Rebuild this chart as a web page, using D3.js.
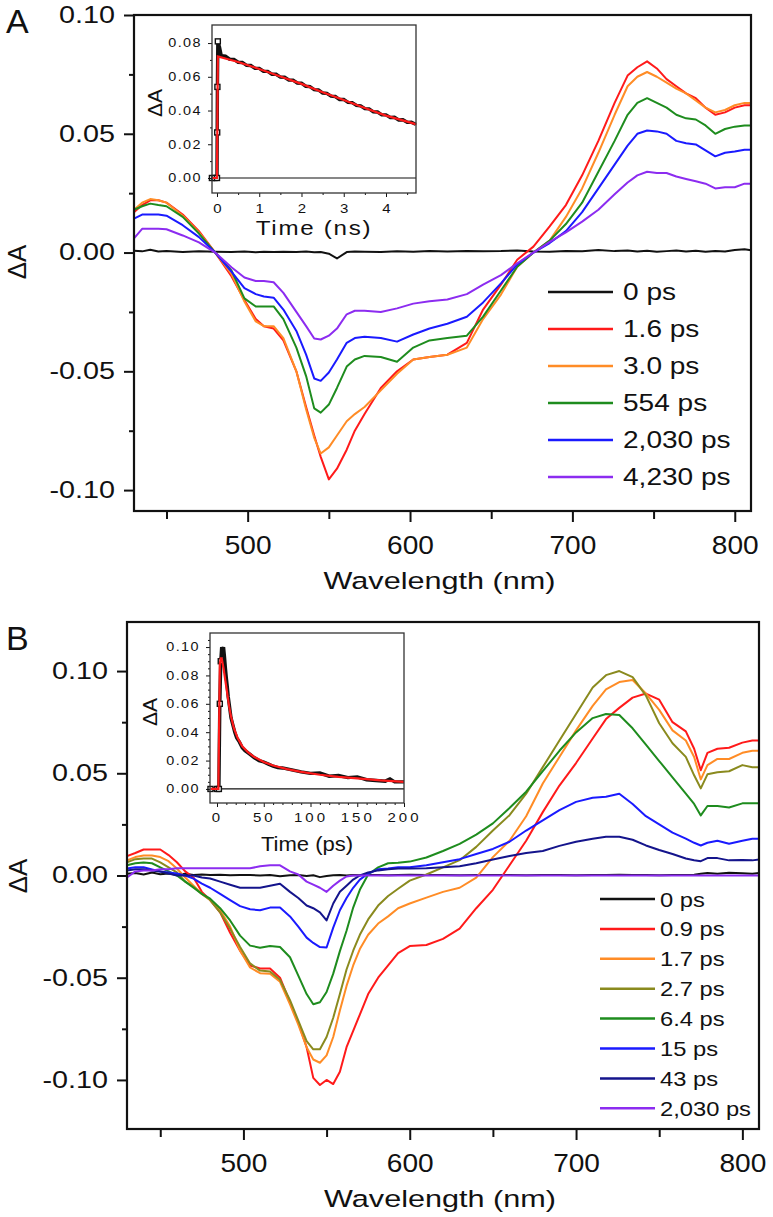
<!DOCTYPE html>
<html>
<head>
<meta charset="utf-8">
<script src="https://cdn.jsdelivr.net/npm/d3@7"></script>
<style>
  body { margin: 0; background: #fff; }
  svg { display: block; }
</style>
</head>
<body>
<svg id="chart" width="773" height="1217"></svg>
<script>
// ---------- Panel A : transient spectra ----------
const wavelengthsA = [430,435,440,445,450,460,470,480,490,498,505,510,516,522,530,536,541,545,550,555,
  561,566,572,582,592,602,612,623,635,645,656,666,676,686,696,706,716,726,734,740,
  746,752,758,764,770,776,782,788,794,800,806,810];

const a0ps = [0.0008,0.0005,0.0012,0.0004,0.0006,0.0002,0.0005,0.0003,0.0002,0.0004,0.0001,0.0003,0.0002,0.0003,0.0002,0.0004,0.0001,0.0002,-0.0005,-0.0025,
  0.0002,0.0004,0.0003,0.0002,0.0005,0.0003,0.0006,0.0004,0.0007,0.0005,0.0006,0.0009,0.0004,0.0003,0.0007,0.0005,0.0011,0.0006,0.0009,0.0004,
  0.0008,0.0003,0.0006,0.0009,0.0004,0.0008,0.0003,0.0007,0.0004,0.0011,0.0014,0.0010];
const a1_6ps = [0.017,0.020,0.022,0.022,0.021,0.016,0.009,0.000,-0.010,-0.020,-0.028,-0.031,-0.032,-0.037,-0.050,-0.065,-0.077,-0.086,-0.0955,-0.091,
  -0.083,-0.075,-0.068,-0.057,-0.050,-0.045,-0.044,-0.043,-0.038,-0.024,-0.0135,-0.003,0.0025,0.011,0.020,0.0325,0.047,0.063,0.0745,0.078,
  0.0805,0.0775,0.073,0.070,0.067,0.065,0.061,0.058,0.059,0.061,0.062,0.062];
const a3_0ps = [0.018,0.021,0.0225,0.022,0.021,0.0155,0.0085,0.000,-0.009,-0.0206,-0.029,-0.031,-0.031,-0.036,-0.050,-0.066,-0.078,-0.0846,-0.082,-0.077,
  -0.071,-0.068,-0.065,-0.058,-0.051,-0.045,-0.044,-0.043,-0.040,-0.028,-0.0177,-0.006,0.000,0.005,0.015,0.027,0.042,0.058,0.070,0.074,
  0.076,0.074,0.0715,0.069,0.067,0.064,0.061,0.059,0.060,0.062,0.063,0.063];
const a554ps = [0.018,0.0195,0.0206,0.020,0.0195,0.015,0.008,0.000,-0.0075,-0.0193,-0.0227,-0.0227,-0.0227,-0.028,-0.040,-0.052,-0.0656,-0.0674,-0.064,-0.057,
  -0.048,-0.045,-0.0435,-0.044,-0.046,-0.040,-0.037,-0.036,-0.035,-0.027,-0.016,-0.006,0.000,0.005,0.012,0.021,0.034,0.047,0.058,0.063,
  0.065,0.063,0.061,0.058,0.0565,0.056,0.0535,0.050,0.052,0.053,0.0535,0.0535];
const a2030ps = [0.0143,0.016,0.016,0.016,0.0155,0.0115,0.0065,0.000,-0.008,-0.015,-0.0175,-0.0185,-0.019,-0.024,-0.033,-0.043,-0.053,-0.054,-0.0505,-0.045,
  -0.038,-0.036,-0.0354,-0.036,-0.0375,-0.0345,-0.032,-0.030,-0.027,-0.021,-0.013,-0.005,0.000,0.004,0.009,0.017,0.027,0.037,0.045,0.050,
  0.0514,0.051,0.050,0.047,0.046,0.0455,0.043,0.0405,0.042,0.0425,0.0433,0.0433];
const a4230ps = [0.006,0.010,0.010,0.010,0.0098,0.0072,0.0043,0.000,-0.0062,-0.0105,-0.012,-0.012,-0.0125,-0.017,-0.025,-0.031,-0.0362,-0.0366,-0.035,-0.032,
  -0.026,-0.0245,-0.0245,-0.025,-0.0235,-0.0215,-0.0205,-0.0198,-0.0175,-0.0135,-0.0095,-0.0045,0.000,0.0045,0.0085,0.013,0.018,0.0245,0.0295,0.0325,
  0.034,0.0335,0.0335,0.032,0.031,0.030,0.029,0.027,0.0275,0.0275,0.029,0.029];
const legendA = ['0 ps', '1.6 ps', '3.0 ps', '554 ps', '2,030 ps', '4,230 ps'];

// inset A : kinetics (ns)
const insetATime = [-0.12,-0.06,0,0.005,0.01,0.02,0.06,0.1,
  0.2,0.3,0.4,0.5,0.6,0.7,0.8,0.9,1.0,1.1,1.2,1.3,1.4,1.5,1.6,1.7,1.8,1.9,2.0,2.1,2.2,2.3,2.4,2.5,2.6,2.7,2.8,2.9,
  3.0,3.1,3.2,3.3,3.4,3.5,3.6,3.7,3.8,3.9,4.0,4.1,4.2,4.3,4.4,4.5,4.6,4.7];
const insetAData = [0,0,0,0.027,0.054,0.081,0.0775,0.0725,
  0.0722,0.0704,0.0703,0.0686,0.0685,0.0668,0.0667,0.0650,0.0650,0.0633,0.0632,0.0615,0.0615,0.0598,0.0597,0.0581,0.0580,0.0563,0.0562,0.0544,0.0542,0.0524,0.0522,0.0504,0.0502,0.0485,0.0483,0.0465,
  0.0466,0.0448,0.0447,0.0430,0.0428,0.0411,0.0410,0.0392,0.0391,0.0374,0.0374,0.0359,0.0360,0.0344,0.0345,0.0330,0.0331,0.0318];
const insetAFitTime = [-0.12,0,0.02,0.5,1.0,1.5,2.0,2.5,3.0,3.5,4.0,4.5,4.72];
const insetAFit = [0,0,0.0720,0.0688,0.0646,0.0602,0.0558,0.0508,0.0462,0.0415,0.0370,0.0334,0.0318];

// ---------- Panel B : transient spectra ----------
const wavelengthsB = [430,435,440,445,450,455,460,465,470,475,480,486,492,498,504,510,516,522,528,533,
  538,542,546,550,554,558,562,566,570,575,581,587,593,600,610,620,630,640,650,660,
  670,680,690,700,710,718,726,734,742,750,758,766,771,775,779,785,792,800,806,810];

const b0ps = [0.0008,0.0012,0.0005,0.0015,0.0006,0.0010,0.0004,0.0008,0.0003,0.0005,0.0002,0.0004,0.0001,0.0003,0.0002,0.0000,0.0002,-0.0004,0.0001,0.0002,
  -0.0002,0.0001,-0.0008,-0.0003,0.0001,0.0002,0.0000,0.0003,0.0001,0.0002,0.0003,0.0001,0.0002,0.0004,0.0002,0.0003,0.0001,0.0002,0.0003,0.0002,
  0.0001,0.0003,0.0002,0.0001,0.0003,0.0002,0.0004,0.0002,0.0003,0.0001,0.0002,0.0003,0.0004,0.0008,0.0012,0.0009,0.0013,0.0011,0.0009,0.0012];
const b0_9ps = [0.0095,0.011,0.0127,0.0127,0.0127,0.010,0.0065,0.002,-0.001,-0.008,-0.012,-0.018,-0.028,-0.0368,-0.044,-0.0455,-0.0455,-0.050,-0.062,-0.072,
  -0.084,-0.099,-0.1025,-0.100,-0.102,-0.096,-0.084,-0.076,-0.068,-0.058,-0.050,-0.044,-0.038,-0.0345,-0.034,-0.031,-0.026,-0.016,-0.007,0.005,
  0.017,0.031,0.044,0.055,0.067,0.0765,0.082,0.087,0.089,0.086,0.075,0.0705,0.062,0.0515,0.060,0.062,0.0625,0.065,0.066,0.066];
const b1_7ps = [0.0074,0.009,0.0098,0.0098,0.009,0.007,0.0034,-0.001,-0.005,-0.009,-0.012,-0.017,-0.025,-0.0368,-0.045,-0.0478,-0.048,-0.052,-0.063,-0.073,
  -0.084,-0.090,-0.0916,-0.088,-0.079,-0.066,-0.054,-0.044,-0.036,-0.029,-0.0235,-0.020,-0.016,-0.0137,-0.0108,-0.008,-0.006,-0.001,0.009,0.017,
  0.029,0.045,0.058,0.071,0.083,0.091,0.0946,0.0956,0.089,0.081,0.071,0.066,0.058,0.047,0.054,0.057,0.057,0.060,0.061,0.061];
const b2_7ps = [0.0064,0.008,0.0083,0.0083,0.0064,0.004,0.0015,-0.003,-0.0055,-0.009,-0.012,-0.018,-0.026,-0.035,-0.043,-0.0465,-0.047,-0.051,-0.061,-0.071,
  -0.081,-0.085,-0.085,-0.079,-0.0696,-0.058,-0.046,-0.0368,-0.029,-0.0215,-0.0147,-0.010,-0.0065,-0.0025,0.0005,0.004,0.0075,0.014,0.022,0.0295,
  0.040,0.053,0.066,0.079,0.092,0.098,0.100,0.097,0.088,0.0745,0.0647,0.058,0.049,0.0426,0.0495,0.0505,0.051,0.054,0.053,0.053];
const b6_4ps = [0.005,0.006,0.0064,0.006,0.004,0.002,0.0,-0.003,-0.006,-0.009,-0.0113,-0.016,-0.022,-0.0294,-0.0343,-0.0353,-0.0345,-0.035,-0.040,-0.049,
  -0.058,-0.063,-0.062,-0.057,-0.048,-0.037,-0.027,-0.0157,-0.007,0.0005,0.004,0.006,0.0062,0.0068,0.0088,0.012,0.0155,0.020,0.0255,0.033,
  0.041,0.051,0.061,0.070,0.077,0.079,0.0785,0.072,0.064,0.056,0.048,0.040,0.035,0.0294,0.034,0.034,0.0333,0.0353,0.0353,0.0353];
const b15ps = [0.0034,0.004,0.004,0.003,0.002,0.0015,0.001,0.0,-0.0015,-0.004,-0.006,-0.009,-0.012,-0.015,-0.0165,-0.017,-0.0157,-0.0157,-0.020,-0.025,
  -0.0304,-0.033,-0.035,-0.0352,-0.0255,-0.017,-0.011,-0.006,-0.002,0.001,0.003,0.0034,0.004,0.004,0.005,0.0065,0.008,0.0105,0.013,0.0165,
  0.022,0.027,0.032,0.036,0.038,0.0385,0.040,0.035,0.029,0.025,0.021,0.018,0.016,0.0147,0.016,0.017,0.0155,0.017,0.018,0.018];
const b43ps = [0.0025,0.003,0.003,0.0025,0.002,0.001,0.0,0.0,0.0,-0.001,-0.0015,-0.003,-0.0045,-0.006,-0.006,-0.006,-0.005,-0.004,-0.008,-0.011,
  -0.0147,-0.016,-0.018,-0.022,-0.0137,-0.008,-0.005,-0.002,0.0,0.0015,0.0025,0.003,0.0034,0.0034,0.0036,0.004,0.0045,0.006,0.0078,0.0095,
  0.011,0.012,0.0145,0.0165,0.018,0.019,0.019,0.0175,0.0147,0.0125,0.0105,0.0083,0.0075,0.007,0.0085,0.0085,0.0074,0.0076,0.0074,0.0078];
const b2030ps = [-0.001,0.002,0.0025,0.0025,0.003,0.003,0.0035,0.0035,0.0035,0.0035,0.0035,0.0035,0.0035,0.0035,0.0035,0.0045,0.005,0.005,0.002,0.0005,
  -0.003,-0.0045,-0.006,-0.008,-0.005,-0.0025,-0.0005,0.0,0.0,0.0,0,0,0,0,0,0,0,0,0,0,
  0,0,0,0,0,0,0,0,0,0,0,0,0,0,0,0,0,0,0,0];
const legendB = ['0 ps', '0.9 ps', '1.7 ps', '2.7 ps', '6.4 ps', '15 ps', '43 ps', '2,030 ps'];

// inset B : kinetics (ps)
const insetBTime = [-7,0,2,3,4,5,6,7,8,9,10,11,12,13,14,15,17,19,21,24,27,30,35,40,45,50,55,60,65,70,
  80,90,100,110,120,130,140,150,160,170,180,185,190,200];
const insetBData = [0,0,0.0,0.06,0.09,0.10,0.097,0.10,0.093,0.085,0.078,0.072,0.065,0.060,0.055,0.050,0.045,0.040,0.036,0.033,
  0.029,0.027,0.0245,0.022,0.020,0.019,0.0175,0.016,0.015,0.0148,0.0135,0.012,0.011,0.0112,0.009,0.0095,0.008,0.0085,0.0065,0.006,
  0.0055,0.007,0.005,0.005];
const insetBFitTime = [-7,1.5,3,4,5,7,9,11,13,15,18,22,27,33,40,50,60,75,90,110,130,150,175,200];
const insetBFit = [0,0,0.088,0.092,0.092,0.085,0.076,0.067,0.058,0.051,0.043,0.036,0.030,0.026,0.0225,0.019,0.0165,0.014,0.012,0.010,0.0085,0.0075,0.006,0.005];

// ---------- drawing ----------
const FONT = '"Liberation Sans", Arial, Helvetica, sans-serif';
const INK = '#111';
const svg = d3.select('#chart').style('font-family', FONT);

function stext(g, x, y, str, size, sx, anchor) {
  return g.append('text')
    .attr('transform', `translate(${x},${y}) scale(${sx},1)`)
    .attr('text-anchor', anchor || 'start')
    .attr('fill', INK)
    .style('font-size', size + 'px')
    .text(str);
}

function styleAxis(sel, opts) {
  sel.attr('font-family', FONT).attr('font-size', opts.size);
  sel.select('.domain').remove();
  sel.selectAll('line').attr('stroke', INK).attr('stroke-width', opts.tickWidth);
  sel.selectAll('text')
    .attr('fill', INK)
    .style('letter-spacing', (opts.spacing || 0) + 'px')
    .attr('x', function () { const v = this.getAttribute('x'); return v === null ? null : +v / opts.sx; })
    .attr('transform', `scale(${opts.sx},1)`);
}

function drawMain(p) {
  const g = svg.append('g');
  const x = d3.scaleLinear().domain([430, 810]).range([p.left, p.right]);
  const y = d3.scaleLinear().domain(p.yDomain).range([p.bottom, p.top]);

  p.series.forEach((s, i) => {
    const line = d3.line().x((d, k) => x(p.wl[k])).y(d => y(d));
    g.append('path').datum(s).attr('d', line)
      .attr('fill', 'none').attr('stroke', p.colors[i]).attr('stroke-width', 2)
      .attr('stroke-linejoin', 'round');
  });

  // y axis
  const ya = g.append('g').attr('transform', `translate(${p.left},0)`)
    .call(d3.axisLeft(y).tickValues([-0.10, -0.05, 0, 0.05, 0.10]).tickSize(10).tickPadding(9)
      .tickFormat(d => d.toFixed(2)));
  styleAxis(ya, { size: 23, sx: 1.25, tickWidth: 2 });
  const yam = g.append('g').attr('transform', `translate(${p.left},0)`)
    .call(d3.axisLeft(y).tickValues([-0.075, -0.025, 0.025, 0.075]).tickSize(5).tickFormat(''));
  styleAxis(yam, { size: 23, sx: 1, tickWidth: 2 });

  // x axis
  const xa = g.append('g').attr('transform', `translate(0,${p.bottom})`)
    .call(d3.axisBottom(x).tickValues([500, 600, 700, 800]).tickSize(11).tickPadding(13.5));
  styleAxis(xa, { size: 26, sx: 1.08, tickWidth: 2 });
  const xam = g.append('g').attr('transform', `translate(0,${p.bottom})`)
    .call(d3.axisBottom(x).tickValues([450, 550, 650, 750]).tickSize(8).tickFormat(''));
  styleAxis(xam, { size: 26, sx: 1, tickWidth: 2 });

  // frame
  g.append('rect').attr('x', p.left).attr('y', p.top)
    .attr('width', p.right - p.left).attr('height', p.bottom - p.top)
    .attr('fill', 'none').attr('stroke', INK).attr('stroke-width', 2.2);

  // titles
  stext(g, (p.left + p.right) / 2 - 3, p.bottom + 78, 'Wavelength (nm)', 24.5, 1.25, 'middle');
  g.append('text')
    .attr('transform', `translate(${p.yLabelX},${p.yLabelY}) rotate(-90)`)
    .attr('text-anchor', 'middle').attr('dy', '0.35em').attr('fill', INK)
    .style('font-size', '26px').text('\u0394A');
  g.append('text').attr('x', 6).attr('y', p.letterY).attr('fill', INK)
    .style('font-size', '34px').text(p.letter);

  // legend
  p.legend.forEach((lab, i) => {
    const yy = p.leg.y0 + i * p.leg.step;
    g.append('line').attr('x1', p.leg.x1).attr('x2', p.leg.x2).attr('y1', yy).attr('y2', yy)
      .attr('stroke', p.colors[i]).attr('stroke-width', 2.5);
    stext(g, p.leg.tx, yy, lab, p.leg.size, p.leg.sx).attr('dy', '0.36em');
  });

  drawInset(g, p.inset);
}

function drawInset(parent, q) {
  const g = parent.append('g');
  const x = d3.scaleLinear().domain(q.xDomain).range([q.left, q.right]);
  const y = d3.scaleLinear().domain(q.yDomain).range([q.bottom, q.top]);

  g.append('rect').attr('x', q.left).attr('y', q.top)
    .attr('width', q.right - q.left).attr('height', q.bottom - q.top).attr('fill', '#fff');

  g.append('line').attr('x1', q.left).attr('x2', q.right).attr('y1', y(0)).attr('y2', y(0))
    .attr('stroke', INK).attr('stroke-width', 1.2);

  const line = (ts) => d3.line().x((d, k) => x(ts[k])).y(d => y(d));
  g.append('path').datum(q.data).attr('d', line(q.time))
    .attr('fill', 'none').attr('stroke', INK).attr('stroke-width', 3.4).attr('stroke-linejoin', 'miter');
  // open squares on the rising edge
  g.selectAll('.pt').data(q.data.map((d, k) => [q.time[k], d]).filter(d => d[0] <= q.riseEnd))
    .enter().append('rect')
    .attr('x', d => x(d[0]) - 2.5).attr('y', d => y(d[1]) - 2.5)
    .attr('width', 5).attr('height', 5).attr('fill', '#fff').attr('stroke', INK).attr('stroke-width', 1.4);
  g.append('path').datum(q.fit).attr('d', line(q.fitTime))
    .attr('fill', 'none').attr('stroke', '#ff1a1a').attr('stroke-width', 2.2);

  const ya = g.append('g').attr('transform', `translate(${q.left},0)`)
    .call(d3.axisLeft(y).tickValues(q.yTicks).tickSize(4).tickPadding(6).tickFormat(d => d.toFixed(2)));
  styleAxis(ya, { size: 12, sx: 1.2, tickWidth: 1, spacing: 1.2 });
  const yam = g.append('g').attr('transform', `translate(${q.left},0)`)
    .call(d3.axisLeft(y).tickValues(q.yMinor).tickSize(2).tickFormat(''));
  styleAxis(yam, { size: 12, sx: 1, tickWidth: 1 });

  const xa = g.append('g').attr('transform', `translate(0,${q.bottom})`)
    .call(d3.axisBottom(x).tickValues(q.xTicks).tickSize(4).tickPadding(q.xPad).tickFormat(d => String(d)));
  styleAxis(xa, { size: 12.5, sx: 1.2, tickWidth: 1, spacing: q.xSpacing });
  const xam = g.append('g').attr('transform', `translate(0,${q.bottom})`)
    .call(d3.axisBottom(x).tickValues(q.xMinor).tickSize(2).tickFormat(''));
  styleAxis(xam, { size: 12, sx: 1, tickWidth: 1 });

  g.append('rect').attr('x', q.left).attr('y', q.top)
    .attr('width', q.right - q.left).attr('height', q.bottom - q.top)
    .attr('fill', 'none').attr('stroke', '#333').attr('stroke-width', 1.3);

  stext(g, (q.left + q.right) / 2, q.titleY, q.title, 21, q.titleSx, 'middle').style('letter-spacing', q.titleSpacing + 'px');
  g.append('text')
    .attr('transform', `translate(${q.yLabelX},${(q.top + q.bottom) / 2 - 6}) rotate(-90)`)
    .attr('text-anchor', 'middle').attr('dy', '0.35em').attr('fill', INK)
    .style('font-size', '21px').text('\u0394A');
}

drawMain({
  letter: 'A', letterY: 33,
  left: 134, right: 751, top: 15, bottom: 511,
  yDomain: [-0.1088, 0.10],
  wl: wavelengthsA,
  series: [a0ps, a1_6ps, a3_0ps, a554ps, a2030ps, a4230ps],
  colors: ['#111111', '#ff1a1a', '#ff8c26', '#1e8c1e', '#1a1aff', '#8c2cf0'],
  legend: legendA,
  leg: { x1: 548, x2: 613, tx: 623, y0: 292, step: 37, size: 23, sx: 1.22 },
  yLabelX: 17, yLabelY: 262,
  inset: {
    left: 212, right: 416, top: 25, bottom: 193,
    xDomain: [-0.118, 4.71], yDomain: [-0.0089, 0.0907],
    time: insetATime, data: insetAData, fitTime: insetAFitTime, fit: insetAFit, riseEnd: 0.02,
    yTicks: [0, 0.02, 0.04, 0.06, 0.08], yMinor: [0.01, 0.03, 0.05, 0.07],
    xTicks: [0, 1, 2, 3, 4], xMinor: [0.5, 1.5, 2.5, 3.5, 4.5], xPad: 7.5, xSpacing: 0,
    title: 'Time (ns)', titleY: 235, titleSx: 1.15, titleSpacing: 1.5, yLabelX: 155
  }
});

drawMain({
  letter: 'B', letterY: 650,
  left: 127, right: 759, top: 622, bottom: 1129,
  yDomain: [-0.124, 0.124],
  wl: wavelengthsB,
  series: [b0ps, b0_9ps, b1_7ps, b2_7ps, b6_4ps, b15ps, b43ps, b2030ps],
  colors: ['#111111', '#ff1a1a', '#ff8c26', '#8a8a1e', '#1e8c1e', '#1a1aff', '#14148c', '#8c2cf0'],
  legend: legendB,
  leg: { x1: 600, x2: 655, tx: 660, y0: 899, step: 29.9, size: 21, sx: 1.13 },
  yLabelX: 18, yLabelY: 876,
  inset: {
    left: 210, right: 404, top: 633, bottom: 803,
    xDomain: [-7.5, 200], yDomain: [-0.0099, 0.1099],
    time: insetBTime, data: insetBData, fitTime: insetBFitTime, fit: insetBFit, riseEnd: 4,
    yTicks: [0, 0.02, 0.04, 0.06, 0.08, 0.10],
    yMinor: [0.005, 0.01, 0.015, 0.025, 0.03, 0.035, 0.045, 0.05, 0.055, 0.065, 0.07, 0.075, 0.085, 0.09, 0.095, 0.105],
    xTicks: [0, 50, 100, 150, 200], xMinor: [10, 20, 30, 40, 60, 70, 80, 90, 110, 120, 130, 140, 160, 170, 180, 190],
    xPad: 6.5, xSpacing: 2.5,
    title: 'Time (ps)', titleY: 851, titleSx: 1.05, titleSpacing: 0, yLabelX: 150
  }
});
</script>
</body>
</html>
